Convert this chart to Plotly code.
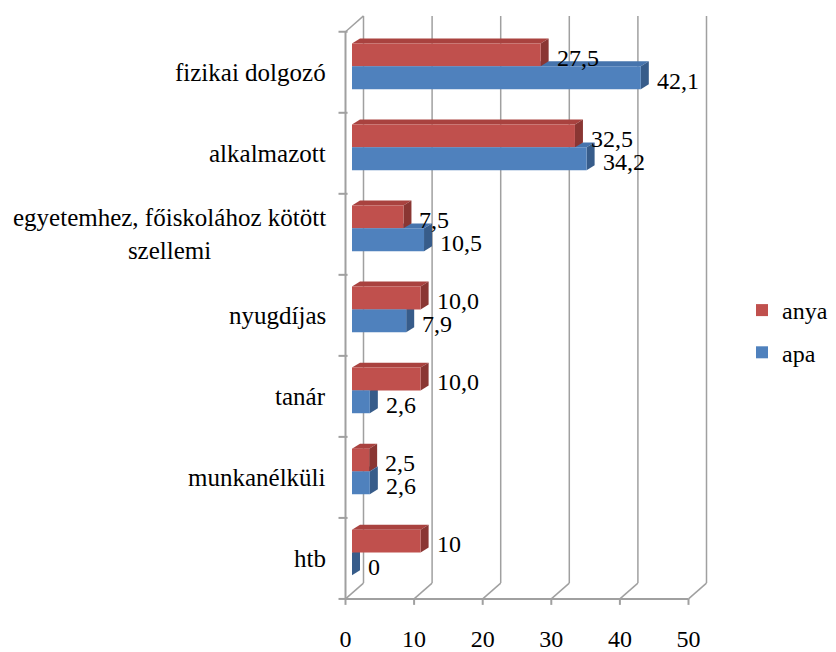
import plotly.graph_objects as go

# ---------------- data ----------------
categories = ["fizikai dolgozó", "alkalmazott",
              "egyetemhez, főiskolához kötött<br>szellemi",
              "nyugdíjas", "tanár", "munkanélküli", "htb"]
anya = [27.5, 32.5, 7.5, 10.0, 10.0, 2.5, 10]
apa = [42.1, 34.2, 10.5, 7.9, 2.6, 2.6, 0]
anya_labels = ["27,5", "32,5", "7,5", "10,0", "10,0", "2,5", "10"]
apa_labels = ["42,1", "34,2", "10,5", "7,9", "2,6", "2,6", "0"]
x_ticks = [0, 10, 20, 30, 40, 50]

# ---------------- geometry / style (window pixels) ----------------
OFF = 8                      # browser body margin
W, H = 836 - OFF, 652 - OFF  # figure size
L, R, T, B = 330, 720, 6, 612
PX_X = 6.86          # pixels per x unit
F0 = 345.5           # pixel of front-plane zero
BAR0 = 352           # pixel where bars start (bars sit deeper in 3D)
PX_Y = 81.7          # pixels per category band
YC0 = 561            # pixel centre of the bottom category band

FONT = "Liberation Serif, Times New Roman, serif"
FS = 24
FS_CAT = 25
RED, RED_SIDE, RED_TOP = "#C0504D", "#8A3633", "#A9423F"
BLUE, BLUE_SIDE, BLUE_TOP = "#4F81BD", "#375C8A", "#4674AD"
GRID = "#A0A0A0"


def xr(zero_px):
    return [(L - zero_px) / PX_X, (R - zero_px) / PX_X]


yr = [(YC0 - B) / PX_Y, (YC0 - T) / PX_Y]

n = len(categories)
pos = [n - 1 - k for k in range(n)]

DX, DY = 18 / PX_X, 16 / PX_Y      # wall depth
BDX, BDY = 8 / PX_X, 5 / PX_Y      # bar depth
BAR_H = 23 / PX_Y
LIFT = 6 / PX_Y
y_red = [p + LIFT + BAR_H / 2 for p in pos]
y_blue = [p + LIFT - BAR_H / 2 for p in pos]

fig = go.Figure()
fig.add_trace(go.Bar(x=anya, y=y_red, orientation="h", width=BAR_H, name="anya",
                     marker=dict(color=RED, line=dict(width=0)), legendgroup="a",
                     xaxis="x", yaxis="y", hoverinfo="skip"))
fig.add_trace(go.Bar(x=apa, y=y_blue, orientation="h", width=BAR_H, name="apa",
                     marker=dict(color=BLUE, line=dict(width=0)), legendgroup="b",
                     xaxis="x", yaxis="y", hoverinfo="skip"))

shapes = []
y_lo, y_hi = -0.5, n - 0.5
# back wall gridlines and floor diagonals
for v in x_ticks:
    shapes.append(dict(type="line", xref="x2", yref="y", x0=v + DX, x1=v + DX,
                       y0=y_lo + DY, y1=y_hi + DY, line=dict(color=GRID, width=1.5),
                       layer="below"))
    shapes.append(dict(type="line", xref="x2", yref="y", x0=v, x1=v + DX,
                       y0=y_lo, y1=y_lo + DY, line=dict(color=GRID, width=1.5),
                       layer="below"))
    shapes.append(dict(type="line", xref="x2", yref="y", x0=v, x1=v,
                       y0=y_lo, y1=y_lo - 6 / PX_Y, line=dict(color=GRID, width=2),
                       layer="below"))
# front floor line and left axis
shapes.append(dict(type="line", xref="x2", yref="y", x0=x_ticks[0], x1=x_ticks[-1],
                   y0=y_lo, y1=y_lo, line=dict(color=GRID, width=2), layer="below"))
shapes.append(dict(type="line", xref="x2", yref="y", x0=0, x1=0,
                   y0=y_lo, y1=y_hi, line=dict(color=GRID, width=2), layer="below"))
shapes.append(dict(type="line", xref="x2", yref="y", x0=0, x1=DX,
                   y0=y_hi, y1=y_hi + DY, line=dict(color=GRID, width=1.5), layer="below"))
for k in range(n + 1):
    yb = y_lo + k
    shapes.append(dict(type="line", xref="x2", yref="y", x0=-7 / PX_X, x1=0.3,
                       y0=yb, y1=yb, line=dict(color=GRID, width=2), layer="below"))


def faces(vals, ys, side_c, top_c):
    out = []
    for v, yc in zip(vals, ys):
        y0, y1 = yc - BAR_H / 2, yc + BAR_H / 2
        top = f"M 0,{y1} L {v},{y1} L {v + BDX},{y1 + BDY} L {BDX},{y1 + BDY} Z"
        side = f"M {v},{y0} L {v + BDX},{y0 + BDY} L {v + BDX},{y1 + BDY} L {v},{y1} Z"
        out.append(dict(type="path", xref="x", yref="y", path=top,
                        fillcolor=top_c, line=dict(width=0), layer="below"))
        out.append(dict(type="path", xref="x", yref="y", path=side,
                        fillcolor=side_c, line=dict(width=0), layer="below"))
    return out


shapes += faces(apa, y_blue, BLUE_SIDE, BLUE_TOP)
shapes += faces(anya, y_red, RED_SIDE, RED_TOP)

annotations = []
for cat, p in zip(categories, pos):
    annotations.append(dict(text=cat, xref="x2", yref="y", x=0, y=p, xanchor="right",
                            yanchor="middle", align="center", xshift=-18, showarrow=False,
                            font=dict(family=FONT, size=FS_CAT, color="black")))
for vals, ys, labs in ((anya, y_red, anya_labels), (apa, y_blue, apa_labels)):
    for v, yc, t in zip(vals, ys, labs):
        annotations.append(dict(text=t, xref="x", yref="y", x=v, y=yc, xanchor="left",
                                yanchor="middle", xshift=14, yshift=-3, showarrow=False,
                                font=dict(family=FONT, size=FS, color="black")))

fig.update_layout(
    width=W, height=H,
    margin=dict(l=L - OFF, r=836 - R, t=0, b=652 - B),
    paper_bgcolor="white", plot_bgcolor="white",
    barmode="overlay",
    font=dict(family=FONT, size=FS, color="black"),
    xaxis=dict(range=xr(BAR0), visible=False, fixedrange=True),
    xaxis2=dict(range=xr(F0), overlaying="x", anchor="y", side="bottom",
                tickmode="array", tickvals=x_ticks, ticks="", showgrid=False,
                zeroline=False, showline=False, ticklabelstandoff=13,
                tickfont=dict(family=FONT, size=FS, color="black")),
    yaxis=dict(range=yr, visible=False, fixedrange=True),
    shapes=shapes,
    annotations=annotations,
    showlegend=True,
    legend=dict(xref="container", yref="container", x=734 / W, y=1 - 280 / H,
                xanchor="left", yanchor="top", traceorder="grouped",
                tracegroupgap=8, bgcolor="rgba(0,0,0,0)",
                font=dict(family=FONT, size=FS, color="black")),
)

fig.write_html("out.html")
